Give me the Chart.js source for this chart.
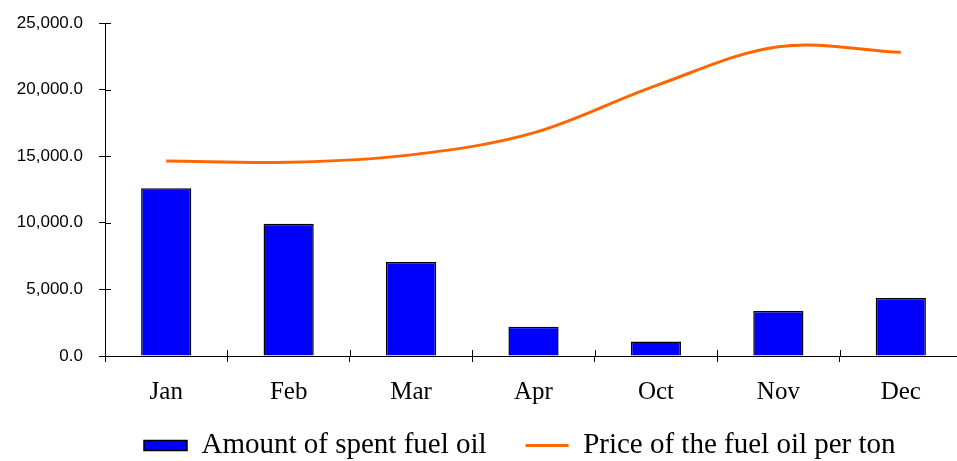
<!DOCTYPE html>
<html>
<head>
<meta charset="utf-8">
<title>Fuel oil</title>
<script src="https://cdn.jsdelivr.net/npm/chart.js@4"></script>
<style>
    html, body { margin: 0; padding: 0; background: #fff; overflow: hidden; }
    #wrap { position: relative; width: 962px; height: 470px; }
</style>
</head>
<body>
<div id="wrap"><canvas id="fuelChart"></canvas></div>
<script>
// Data
const months = ['Jan', 'Feb', 'Mar', 'Apr', 'Oct', 'Nov', 'Dec'];
const spentFuel = [12600, 9930, 7050, 2200, 1080, 3380, 4350];
const pricePerTon = [14640, 14540, 15100, 16750, 20300, 23220, 22800];
const yTicks = [0, 5000, 10000, 15000, 20000, 25000];

const seriesNames = ['Amount of spent fuel oil', 'Price of the fuel oil per ton'];

/**
 * Let the month labels hang below the (short) x axis box without being clipped
 */
const tallXAxis = {
    id: 'tallXAxis',
    afterLayout(chart) {
        const x = chart.scales.x;
        x.bottom = x.top + 70;
    }
};

/**
 * Short tick halves drawn inside the plot, so the marks cross the axis lines
 */
const crossTicks = {
    id: 'crossTicks',
    afterDraw(chart) {
        const { ctx, chartArea, scales } = chart;
        ctx.save();
        ctx.strokeStyle = '#000';
        ctx.lineWidth = 1;
        ctx.beginPath();
        yTicks.forEach(v => {
            const py = Math.round(scales.y.getPixelForValue(v)) + 0.5;
            ctx.moveTo(chartArea.left, py);
            ctx.lineTo(chartArea.left + 6, py);
        });
        for (let i = 0; i <= months.length; i++) {
            const px = Math.round(scales.x.getPixelForValue(i - 0.5)) + 0.5;
            ctx.moveTo(px, chartArea.bottom);
            ctx.lineTo(px, chartArea.bottom - 6);
        }
        ctx.stroke();
        ctx.restore();
    }
};

function formatTick(value) {
    return value.toLocaleString('en-US', { minimumFractionDigits: 1, maximumFractionDigits: 1 });
}

Chart.defaults.color = '#000';

new Chart(document.getElementById('fuelChart'), {
    type: 'bar',
    data: {
        labels: months,
        datasets: [{
            label: seriesNames[0],
            data: spentFuel,
            backgroundColor: '#0000ff',
            borderColor: '#000000',
            borderWidth: 1.5,
            pointStyle: 'rect',
            categoryPercentage: 1,
            barPercentage: 0.41
        }, {
            type: 'line',
            label: seriesNames[1],
            data: pricePerTon,
            borderColor: '#ff6600',
            backgroundColor: '#ff6600',
            borderWidth: 3,
            pointRadius: 0,
            pointStyle: 'line',
            tension: 0.35
        }]
    },
    options: {
        responsive: true,
        maintainAspectRatio: false,
        animation: false,
        layout: {
            padding: { top: 23, left: 0, right: 0, bottom: 0 }
        },
        plugins: {
            tooltip: { enabled: false },
            legend: {
                position: 'bottom',
                align: 'start',
                fullSize: false,
                labels: {
                    usePointStyle: true,
                    pointStyleWidth: 43,
                    boxHeight: 10,
                    padding: 39,
                    color: '#000',
                    font: { family: "'Liberation Serif', 'Times New Roman', serif", size: 29 }
                }
            }
        },
        scales: {
            x: {
                grid: {
                    offset: true,
                    drawOnChartArea: false,
                    drawTicks: true,
                    tickLength: 6,
                    color: '#000'
                },
                border: { display: true, color: '#000', width: 1 },
                ticks: {
                    padding: 15,
                    maxRotation: 0,
                    font: { family: "'Liberation Serif', 'Times New Roman', serif", size: 25 }
                },
                afterFit(scale) {
                    scale.height = 36;
                }
            },
            y: {
                min: 0,
                max: 25000,
                afterBuildTicks(scale) {
                    scale.ticks = yTicks.map(v => ({ value: v }));
                },
                grid: {
                    drawOnChartArea: false,
                    drawTicks: true,
                    tickLength: 6,
                    color: '#000'
                },
                border: { display: true, color: '#000', width: 1 },
                ticks: {
                    padding: 16,
                    font: { family: "'Liberation Sans', Arial, sans-serif", size: 17 },
                    callback: function(value) {
                        return formatTick(value);
                    }
                },
                afterFit(scale) {
                    scale.width = 105;
                    scale.paddingTop = 0;
                    scale.paddingBottom = 0;
                }
            }
        }
    },
    plugins: [tallXAxis, crossTicks]
});
</script>
</body>
</html>
